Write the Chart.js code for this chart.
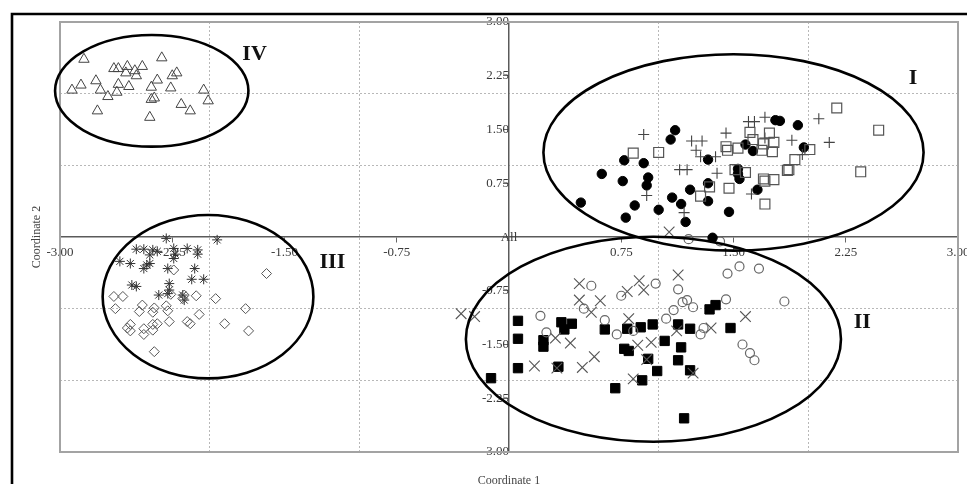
<!DOCTYPE html>
<html>
<head>
<meta charset="utf-8">
<script src="https://cdn.jsdelivr.net/npm/chart.js@4.4.1/dist/chart.umd.min.js"></script>
<style>
  html, body { margin: 0; padding: 0; background: #fff; }
  #wrap { position: relative; width: 967px; height: 484px; }
</style>
</head>
<body>
<div id="wrap"><canvas id="chart" width="967" height="484"></canvas></div>
<script>
// axis ticks (labels at 0.75 steps, dotted grid at whole units)
const tickValues = [-3, -2.25, -1.5, -0.75, 0.75, 1.5, 2.25, 3];
const xTickLabels = ["-3.00", "-2.25", "-1.50", "-0.75", "0.75", "1.50", "2.25", "3.00"];
const yTickLabels = ["-3.00", "-2.25", "-1.50", "-0.75", "0.75", "1.50", "2.25", "3.00"];
const gridValues = [-2, -1, 1, 2];
const originLabel = "All";
const xTitle = "Coordinate 1";
const yTitle = "Coordinate 2";

// group I
const filledCircles = [[1.11,1.49],[1.08,1.36],[0.77,1.07],[0.90,1.03],[0.62,0.88],[0.76,0.78],[0.93,0.83],[0.92,0.72],[0.48,0.48],[0.84,0.44],[0.78,0.27],[1.00,0.38],[1.09,0.55],[1.15,0.46],[1.18,0.21],[1.21,0.66],[1.33,1.08],[1.33,0.75],[1.33,0.50],[1.47,0.35],[1.53,0.95],[1.53,0.88],[1.54,0.81],[1.58,1.29],[1.63,1.20],[1.66,0.66],[1.78,1.63],[1.81,1.62],[1.93,1.56],[1.97,1.25],[1.36,-0.01]];
const openSquares = [[0.83,1.17],[1.00,1.18],[1.45,1.26],[1.46,1.21],[1.53,1.24],[1.61,1.46],[1.63,1.36],[1.74,1.45],[1.70,1.30],[1.77,1.32],[1.76,1.19],[1.69,1.21],[1.51,0.94],[1.58,0.90],[1.34,0.70],[1.28,0.57],[1.47,0.68],[1.70,0.81],[1.71,0.78],[1.77,0.80],[1.86,0.93],[1.87,0.94],[1.91,1.08],[2.01,1.22],[2.19,1.80],[2.47,1.49],[2.35,0.91],[1.71,0.46]];
const plusSigns = [[0.90,1.43],[1.22,1.34],[1.29,1.34],[1.25,1.21],[1.28,1.12],[1.38,1.12],[1.45,1.45],[1.60,1.61],[1.64,1.61],[1.71,1.67],[1.71,1.38],[1.89,1.35],[2.07,1.65],[2.14,1.32],[1.14,0.94],[1.19,0.94],[1.39,0.89],[0.92,0.58],[1.17,0.34],[1.62,0.60],[1.96,1.15]];

// group II
const filledSquares = [[0.06,-1.17],[0.06,-1.42],[0.06,-1.83],[-0.12,-1.97],[0.23,-1.44],[0.23,-1.53],[0.33,-1.81],[0.35,-1.19],[0.37,-1.29],[0.42,-1.21],[0.64,-1.29],[0.71,-2.11],[0.79,-1.28],[0.88,-1.26],[0.96,-1.22],[0.77,-1.56],[0.80,-1.59],[0.93,-1.70],[0.99,-1.87],[0.89,-2.00],[1.04,-1.45],[1.13,-1.22],[1.21,-1.28],[1.15,-1.54],[1.13,-1.72],[1.21,-1.86],[1.17,-2.53],[1.34,-1.01],[1.38,-0.95],[1.48,-1.27]];
const crossMarks = [[-0.32,-1.07],[-0.23,-1.11],[0.47,-0.65],[0.47,-0.88],[0.61,-0.89],[0.55,-1.05],[0.31,-1.41],[0.41,-1.48],[0.17,-1.80],[0.32,-1.83],[0.49,-1.82],[0.57,-1.67],[0.79,-0.76],[0.87,-0.61],[0.90,-0.74],[0.80,-1.14],[0.86,-1.51],[0.95,-1.47],[0.92,-1.71],[0.83,-1.98],[1.13,-0.53],[1.12,-1.31],[1.35,-1.27],[1.58,-1.11],[1.23,-1.90],[1.07,0.07]];
const openCircles = [[0.55,-0.68],[0.50,-1.00],[0.75,-0.82],[0.98,-0.65],[0.21,-1.10],[0.25,-1.33],[0.64,-1.16],[0.72,-1.36],[0.83,-1.31],[1.13,-0.73],[1.16,-0.91],[1.19,-0.88],[1.23,-0.98],[1.10,-1.02],[1.05,-1.14],[1.45,-0.87],[1.30,-1.27],[1.28,-1.36],[1.20,-0.03],[1.46,-0.51],[1.54,-0.41],[1.67,-0.44],[1.84,-0.90],[1.56,-1.50],[1.61,-1.62],[1.64,-1.72],[1.41,-0.06]];

// group III
const asterisks = [[-2.29,-0.02],[-1.95,-0.04],[-2.49,-0.17],[-2.44,-0.17],[-2.38,-0.18],[-2.35,-0.20],[-2.40,-0.25],[-2.24,-0.16],[-2.23,-0.24],[-2.24,-0.30],[-2.15,-0.16],[-2.08,-0.18],[-2.08,-0.24],[-2.60,-0.34],[-2.53,-0.37],[-2.44,-0.44],[-2.42,-0.39],[-2.40,-0.37],[-2.28,-0.44],[-2.10,-0.44],[-2.12,-0.59],[-2.04,-0.59],[-2.27,-0.65],[-2.52,-0.67],[-2.49,-0.69],[-2.27,-0.74],[-2.34,-0.81],[-2.28,-0.79],[-2.18,-0.81],[-2.17,-0.88]];
const diamonds = [[-1.62,-0.51],[-2.24,-0.46],[-2.64,-0.83],[-2.58,-0.83],[-2.63,-1.00],[-2.45,-0.95],[-2.47,-1.04],[-2.37,-0.99],[-2.38,-1.05],[-2.29,-0.96],[-2.28,-1.03],[-2.26,-0.80],[-2.17,-0.81],[-2.18,-0.86],[-2.09,-0.82],[-1.96,-0.86],[-1.76,-1.00],[-2.07,-1.08],[-2.27,-1.18],[-2.15,-1.18],[-2.13,-1.21],[-1.90,-1.21],[-1.74,-1.31],[-2.53,-1.22],[-2.55,-1.27],[-2.53,-1.31],[-2.44,-1.28],[-2.44,-1.36],[-2.38,-1.22],[-2.38,-1.30],[-2.35,-1.21],[-2.37,-1.60]];

// group IV
const triangles = [[-2.84,2.48],[-2.32,2.50],[-2.64,2.35],[-2.61,2.35],[-2.55,2.38],[-2.56,2.29],[-2.50,2.32],[-2.49,2.25],[-2.45,2.38],[-2.25,2.25],[-2.22,2.29],[-2.76,2.18],[-2.86,2.12],[-2.92,2.05],[-2.73,2.05],[-2.68,1.96],[-2.61,2.13],[-2.62,2.02],[-2.54,2.10],[-2.39,2.09],[-2.35,2.19],[-2.26,2.08],[-2.04,2.05],[-2.01,1.90],[-2.39,1.92],[-2.37,1.94],[-2.19,1.85],[-2.13,1.76],[-2.75,1.76],[-2.40,1.67]];

// cluster ellipses [cx, cy, rx, ry] in axis units, and their roman labels
const clusterNames = ["I", "II", "III", "IV"];
const clusterEllipses = [[1.50, 1.18, 1.27, 1.37], [0.965, -1.426, 1.253, 1.43], [-2.011, -0.833, 0.704, 1.14], [-2.387, 2.04, 0.646, 0.779]];
const clusterLabelAt = [[2.70, 2.21], [2.36, -1.19], [-1.18, -0.36], [-1.70, 2.55]];

const serif = "'Liberation Serif', 'DejaVu Serif', serif";

function series(points, style, radius, fill, stroke, width) {
  return {
    data: points.map(p => ({ x: p[0], y: p[1] })),
    pointStyle: style,
    pointRadius: radius,
    pointBackgroundColor: fill,
    pointBorderColor: stroke,
    pointBorderWidth: width,
    clip: false
  };
}

const decor = {
  id: "decor",
  beforeDatasetsDraw(chart) {
    const { ctx, chartArea: a } = chart;
    ctx.save();
    ctx.strokeStyle = "#a3a3a3";
    ctx.lineWidth = 2;
    ctx.strokeRect(a.left, a.top, a.right - a.left, a.bottom - a.top);
    ctx.restore();
  },
  afterDatasetsDraw(chart) {
    const { ctx, scales: { x, y } } = chart;
    const ux = x.getPixelForValue(1) - x.getPixelForValue(0);
    const uy = y.getPixelForValue(0) - y.getPixelForValue(1);
    ctx.save();
    ctx.strokeStyle = "#000";
    ctx.lineWidth = 2.6;
    clusterEllipses.forEach(e => {
      ctx.beginPath();
      ctx.ellipse(x.getPixelForValue(e[0]), y.getPixelForValue(e[1]), e[2] * ux, e[3] * uy, 0, 0, Math.PI * 2);
      ctx.stroke();
    });
    ctx.fillStyle = "#111";
    ctx.font = "bold 22px " + serif;
    ctx.textAlign = "center";
    ctx.textBaseline = "middle";
    clusterNames.forEach((n, i) => {
      ctx.fillText(n, x.getPixelForValue(clusterLabelAt[i][0]), y.getPixelForValue(clusterLabelAt[i][1]));
    });
    ctx.restore();
  },
  afterDraw(chart) {
    const { ctx, chartArea: a, scales: { x, y } } = chart;
    ctx.save();
    ctx.fillStyle = "#3a3a3a";
    ctx.font = "13px " + serif;
    ctx.textAlign = "center";
    ctx.textBaseline = "middle";
    ctx.fillText(originLabel, x.getPixelForValue(0), y.getPixelForValue(0) + 1);

    ctx.font = "12px " + serif;
    ctx.fillStyle = "#444";
    ctx.textBaseline = "top";
    ctx.fillText(xTitle, x.getPixelForValue(0), a.bottom + 23);
    ctx.translate(a.left - 23, (a.top + a.bottom) / 2);
    ctx.rotate(-Math.PI / 2);
    ctx.textBaseline = "middle";
    ctx.fillText(yTitle, 0, 0);
    ctx.restore();

    // outer frame of the figure
    ctx.save();
    ctx.strokeStyle = "#000";
    ctx.lineWidth = 2.6;
    ctx.beginPath();
    ctx.moveTo(12, chart.height);
    ctx.lineTo(12, 14);
    ctx.lineTo(chart.width, 14);
    ctx.stroke();
    ctx.restore();
  }
};

function axis(labels, where) {
  return {
    type: "linear",
    min: -3,
    max: 3,
    position: where,
    afterBuildTicks(scale) {
      scale.ticks = tickValues.concat(gridValues).sort((a, b) => a - b).map(v => ({ value: v }));
    },
    afterFit(scale) {
      scale.paddingRight = 0;
      scale.paddingTop = 0;
      scale.paddingBottom = 0;
    },
    ticks: {
      autoSkip: false,
      maxRotation: 0,
      padding: where.y !== undefined ? 3 : 2,
      color: "#3a3a3a",
      font: { family: serif, size: 13 },
      callback(v) {
        const i = tickValues.indexOf(v);
        return i < 0 ? "" : labels[i];
      }
    },
    grid: {
      color: c => (c.tick && gridValues.includes(c.tick.value) ? "#b8b8b8" : "rgba(0,0,0,0)"),
      lineWidth: 1,
      tickLength: 5,
      tickColor: c => (c.tick && tickValues.includes(c.tick.value) ? "#666" : "rgba(0,0,0,0)")
    },
    border: { display: true, color: "#5a5a5a", width: 1.5, dash: [2, 2] }
  };
}

new Chart(document.getElementById("chart"), {
  type: "scatter",
  data: {
    datasets: [
      series(triangles, "triangle", 6, "rgba(0,0,0,0)", "#444", 1),
      series(diamonds, "rectRot", 5, "rgba(0,0,0,0)", "#555", 1),
      series(asterisks, "star", 5, "rgba(0,0,0,0)", "#333", 1),
      series(openSquares, "rect", 7, "rgba(0,0,0,0)", "#555", 1.2),
      series(plusSigns, "cross", 5.5, "rgba(0,0,0,0)", "#444", 1.1),
      series(filledCircles, "circle", 4.7, "#000", "#000", 1),
      series(openCircles, "circle", 4.5, "rgba(0,0,0,0)", "#666", 1.2),
      series(crossMarks, "crossRot", 7.5, "rgba(0,0,0,0)", "#555", 1.1),
      series(filledSquares, "rect", 6.6, "#000", "#000", 1)
    ]
  },
  options: {
    responsive: false,
    animation: false,
    events: [],
    layout: { padding: { left: 60, top: 22, right: 9, bottom: 32 } },
    plugins: { legend: { display: false }, tooltip: { enabled: false } },
    scales: {
      x: axis(xTickLabels, { y: 0 }),
      y: axis(yTickLabels, { x: 0 })
    }
  },
  plugins: [decor]
});
</script>
</body>
</html>
